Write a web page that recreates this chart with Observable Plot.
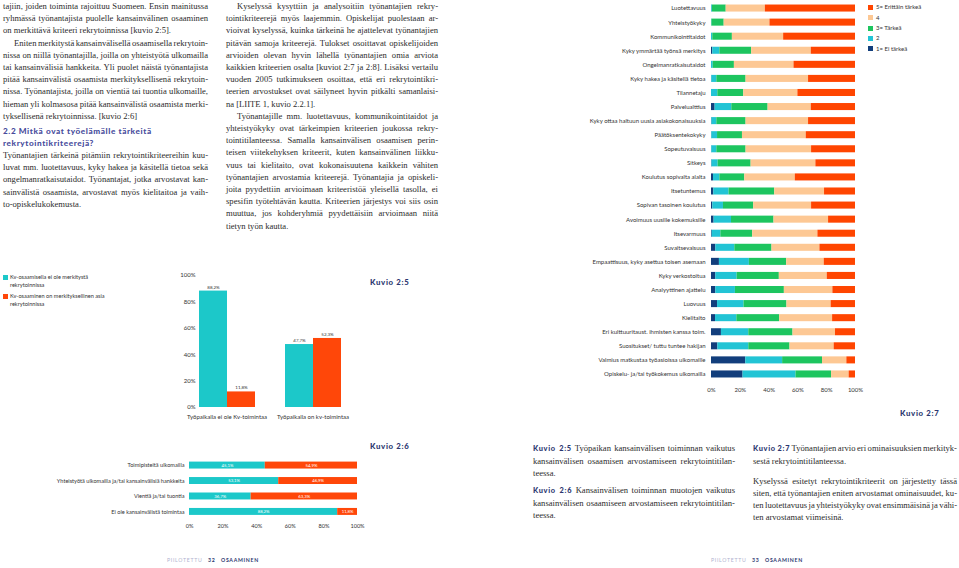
<!DOCTYPE html>
<html><head><meta charset="utf-8">
<script src="https://cdn.jsdelivr.net/npm/d3@7"></script>
<script src="https://cdn.jsdelivr.net/npm/@observablehq/plot@0.6"></script>
<style>
html,body{margin:0;padding:0;background:#fff;}
#page{position:relative;width:959px;height:568px;overflow:hidden;background:#fff;}
.ln{position:absolute;white-space:nowrap;font-family:"Liberation Serif",serif;font-size:8.6px;line-height:12px;height:12px;color:#2b2b2b;}
.h{font-family:Lato,"Open Sans",sans-serif;font-weight:900;color:#474c9c;letter-spacing:.6px;font-size:8.2px;}
.kv{font-family:Lato,sans-serif;font-weight:900;color:#2c376f;letter-spacing:.7px;font-size:7.4px;}
.abs{position:absolute;}
.sm{position:absolute;font-family:Lato,sans-serif;font-size:6px;color:#333;white-space:nowrap;line-height:8px;}
.sq{position:absolute;width:5px;height:5px;}
.ft{position:absolute;font-family:Lato,sans-serif;font-size:5.2px;letter-spacing:.7px;font-weight:700;white-space:nowrap;}
</style></head><body><div id="page"></div>
<script>
// ---------- DATA ----------
// Kuvio 2:5
const kv5Categories = ["Työpaikalla ei ole Kv-toimintaa", "Työpaikalla on kv-toimintaa"];
const kv5Series = ["Kv-osaamisella ei ole merkitystä rekrytoinnissa", "Kv-osaaminen on merkityksellinen asia rekrytoinnissa"];
const kv5NoMeaning = [88.2, 47.7];
const kv5Meaningful = [11.8, 52.3];
const pctTicks = [0, 20, 40, 60, 80, 100];

// Kuvio 2:6
const kv6Categories = ["Toimipisteitä ulkomailla", "Yhteistyötä ulkomailla ja/tai kansainvälisiä hankkeita", "Vientiä ja/tai tuontia", "Ei ole kansainvälistä toimintaa"];
const kv6NoMeaning = [45.1, 53.1, 36.7, 88.2];
const kv6Meaningful = [54.9, 46.9, 63.3, 11.8];

// Kuvio 2:7
const kv7Categories = ["Luotettavuus", "Yhteistyökyky", "Kommunikointitaidot", "Kyky ymmärtää työnsä merkitys", "Ongelmanratkaisutaidot", "Kyky hakea ja käsitellä tietoa", "Tilannetaju", "Palvelualttius", "Kyky ottaa haltuun uusia asiakokonaisuuksia", "Päätöksentekokyky", "Sopeutuvaisuus", "Sitkeys", "Koulutus sopivalta alalta", "Itsetuntemus", "Sopivan tasoinen koulutus", "Avoimuus uusille kokemuksille", "Itsevarmuus", "Suvaitsevaisuus", "Empaattisuus, kyky asettua toisen asemaan", "Kyky verkostoitua", "Analyyttinen ajattelu", "Luovuus", "Kielitaito", "Eri kulttuuritaust. ihmisten kanssa toim.", "Suositukset/ tuttu tuntee hakijan", "Valmius matkustaa työasioissa ulkomaille", "Opiskelu- ja/tai työkokemus ulkomailla"];
const kv7Ratings = ["1= Ei tärkeä", "2", "3= Tärkeä", "4", "5= Erittäin tärkeä"];
const kv7Rating1 = [0.2, 0, 0, 0.9, 0, 0.2, 0, 2.5, 0.3, 0.2, 0.2, 0.3, 1.4, 1.6, 0.9, 1.8, 0.5, 3.0, 5.5, 3.0, 3.0, 4.2, 2.8, 6.9, 4.4, 23.8, 21.9];
const kv7Rating2 = [0.5, 0.3, 0.9, 4.9, 1.2, 3.5, 4.4, 11.6, 3.4, 4.0, 3.5, 4.3, 4.4, 10.6, 7.4, 12.1, 6.0, 13.2, 20.8, 14.8, 13.6, 18.4, 14.8, 19.0, 21.5, 25.6, 36.8];
const kv7Rating3 = [9.5, 8.5, 13.6, 22.1, 14.7, 20.3, 18.0, 25.2, 20.3, 17.3, 20.3, 22.9, 17.3, 31.7, 21.0, 29.5, 22.1, 25.8, 25.9, 29.3, 34.0, 29.8, 29.7, 30.7, 28.6, 27.7, 24.7];
const kv7Rating4 = [27.2, 31.8, 35.6, 41.4, 41.4, 43.4, 37.6, 30.0, 43.4, 44.3, 45.5, 45.0, 35.1, 34.6, 40.2, 37.9, 45.3, 33.3, 26.1, 33.3, 33.7, 30.7, 36.8, 29.5, 30.7, 16.9, 12.2];
const kv7Rating5 = [62.6, 59.4, 49.9, 30.7, 42.7, 32.6, 40.0, 30.7, 32.6, 34.2, 30.5, 27.5, 41.8, 21.5, 30.5, 18.7, 26.1, 24.7, 21.7, 19.6, 15.7, 16.9, 15.9, 13.9, 14.8, 6.0, 4.4];

// ---------- TEXT ----------
const leftLines = [
  ["tajiin, joiden toiminta rajoittuu Suomeen. Ensin mainitussa", 1, 0],
  ["ryhmässä työnantajista puolelle kansainvälinen osaaminen", 1, 0],
  ["on merkittävä kriteeri rekrytoinnissa [kuvio 2:5].", 0, 0],
  ["Eniten merkitystä kansainvälisellä osaamisella rekrytoin-", 1, 1],
  ["nissa on niillä työnantajilla, joilla on yhteistyötä ulkomailla", 1, 0],
  ["tai kansainvälisiä hankkeita. Yli puolet näistä työnantajista", 1, 0],
  ["pitää kansainvälistä osaamista merkityksellisenä rekrytoin-", 1, 0],
  ["nissa. Työnantajista, joilla on vientiä tai tuontia ulkomaille,", 1, 0],
  ["hieman yli kolmasosa pitää kansainvälistä osaamista merki-", 1, 0],
  ["tyksellisenä rekrytoinnissa. [kuvio 2:6]", 0, 0]
];
const leftLines2 = [
  ["Työnantajien tärkeinä pitämiin rekrytointikriteereihin kuu-", 1, 0],
  ["luvat mm. luotettavuus, kyky hakea ja käsitellä tietoa sekä", 1, 0],
  ["ongelmanratkaisutaidot. Työnantajat, jotka arvostavat kan-", 1, 0],
  ["sainvälistä osaamista, arvostavat myös kielitaitoa ja vaih-", 1, 0],
  ["to-opiskelukokemusta.", 0, 0]
];
const midLines = [
  ["Kyselyssä kysyttiin ja analysoitiin työnantajien rekry-", 1, 1],
  ["tointikriteerejä myös laajemmin. Opiskelijat puolestaan ar-", 1, 0],
  ["vioivat kyselyssä, kuinka tärkeinä he ajattelevat työnantajien", 1, 0],
  ["pitävän samoja kriteerejä. Tulokset osoittavat opiskelijoiden", 1, 0],
  ["arvioiden olevan hyvin lähellä työnantajien omia arviota", 1, 0],
  ["kaikkien kriteerien osalta [kuviot 2:7 ja 2:8]. Lisäksi vertailu", 1, 0],
  ["vuoden 2005 tutkimukseen osoittaa, että eri rekrytointikri-", 1, 0],
  ["teerien arvostukset ovat säilyneet hyvin pitkälti samanlaisi-", 1, 0],
  ["na [LIITE 1, kuvio 2.2.1].", 0, 0],
  ["Työnantajille mm. luotettavuus, kommunikointitaidot ja", 1, 1],
  ["yhteistyökyky ovat tärkeimpien kriteerien joukossa rekry-", 1, 0],
  ["tointitilanteessa. Samalla kansainvälisen osaamisen perin-", 1, 0],
  ["teisen viitekehyksen kriteerit, kuten kansainvälinen liikku-", 1, 0],
  ["vuus tai kielitaito, ovat kokonaisuutena kaikkein vähiten", 1, 0],
  ["työnantajien arvostamia kriteerejä. Työnantajia ja opiskeli-", 1, 0],
  ["joita pyydettiin arvioimaan kriteeristöä yleisellä tasolla, ei", 1, 0],
  ["spesifin työtehtävän kautta. Kriteerien järjestys voi siis osin", 1, 0],
  ["muuttua, jos kohderyhmiä pyydettäisiin arvioimaan niitä", 1, 0],
  ["tietyn työn kautta.", 0, 0]
];
const capLeft = [
  ["<span class='kv'>Kuvio 2:5</span> Työpaikan kansainvälisen toiminnan vaikutus", 1, 448],
  ["kansainvälisen osaamisen arvostamiseen rekrytointitilan-", 1, 460.5],
  ["teessa.", 0, 473],
  ["<span class='kv'>Kuvio 2:6</span> Kansainvälisen toiminnan muotojen vaikutus", 1, 490],
  ["kansainvälisen osaamiseen arvostamiseen rekrytointitilan-", 1, 502.5],
  ["teessa.", 0, 515]
];
const capRight = [
  ["<span class='kv'>Kuvio 2:7</span> Työnantajien arvio eri ominaisuuksien merkityk-", 1, 448],
  ["sestä rekrytointitilanteessa.", 0, 460.5],
  ["Kyselyssä esitetyt rekrytointikriteerit on järjestetty tässä", 1, 480.5],
  ["siten, että työnantajien eniten arvostamat ominaisuudet, ku-", 1, 492.5],
  ["ten luotettavuus ja yhteistyökyky ovat ensimmäisinä ja vähi-", 1, 504.5],
  ["ten arvostamat viimeisinä.", 0, 517]
];

const page = document.getElementById("page");
function addLine(html, x, y, w, justify, cls) {
  const d = document.createElement("div");
  d.className = cls || "ln";
  d.style.left = x + "px";
  d.style.top = (y - 6) + "px";
  d.innerHTML = html;
  page.appendChild(d);
  if (justify) {
    const nat = d.getBoundingClientRect().width;
    const txt = d.textContent;
    const spaces = (txt.match(/ /g) || []).length;
    if (spaces) d.style.wordSpacing = ((w - nat) / spaces) + "px";
  }
  return d;
}
const LH = 12.2;
const LX = 3, LW = 205, MX = 226, MW = 212;
leftLines.forEach((l, i) => addLine(l[0], LX + (l[2] ? 11 : 0), 6 + i * LH, LW - (l[2] ? 11 : 0), l[1]));
addLine("2.2 Mitkä ovat työelämälle tärkeitä", LX, 130.7, 0, 0, "ln h");
addLine("rekrytointikriteerejä?", LX, 142.7, 0, 0, "ln h");
leftLines2.forEach((l, i) => addLine(l[0], LX, 155 + i * LH, LW, l[1]));
midLines.forEach((l, i) => addLine(l[0], MX + (l[2] ? 11 : 0), 6 + i * LH, MW - (l[2] ? 11 : 0), l[1]));
capLeft.forEach(l => addLine(l[0], 533, l[2], 202, l[1]));
capRight.forEach(l => addLine(l[0], 753, l[2], 204, l[1]));

// Kuvio labels
function kvLabel(t, x, y) {
  const d = document.createElement("div");
  d.className = "abs kv"; d.style.fontSize = "7.8px";
  d.style.left = x + "px"; d.style.top = (y - 5) + "px"; d.textContent = t;
  page.appendChild(d);
}
kvLabel("Kuvio 2:5", 370, 282);
kvLabel("Kuvio 2:6", 370, 446);
kvLabel("Kuvio 2:7", 900, 413);

// Footer
function ft(t, x, col, w) {
  const d = document.createElement("div");
  d.className = "ft"; d.style.left = x + "px"; d.style.top = "557px"; d.style.color = col;
  if (w) d.style.fontWeight = w;
  d.textContent = t; page.appendChild(d);
}
ft("PIILOTETTU", 167, "#b1b3cf", 400); ft("32", 208, "#2c376f"); ft("OSAAMINEN", 221, "#2c376f");
ft("PIILOTETTU", 711, "#b1b3cf", 400); ft("33", 752, "#2c376f"); ft("OSAAMINEN", 765, "#2c376f");

// ---------- CHARTS ----------
const CYAN = "#1cc8c9", RED = "#ff4709";
const fmt = v => v.toFixed(1).replace(".", ",") + "%";
function place(el, x, y) {
  const w = document.createElement("div");
  w.className = "abs"; w.style.left = x + "px"; w.style.top = y + "px";
  w.appendChild(el); page.appendChild(w);
}

// Kuvio 2:5
const d5 = kv5Categories.flatMap((c, i) => [
  {cat: c, series: kv5Series[0], value: kv5NoMeaning[i]},
  {cat: c, series: kv5Series[1], value: kv5Meaningful[i]}
]);
const chart5 = Plot.plot({
  width: 220, height: 165,
  marginLeft: 39, marginRight: 0, marginTop: 10, marginBottom: 23,
  style: {fontFamily: "Lato, sans-serif", fontSize: "6px", color: "#333", background: "transparent"},
  facet: {data: d5, x: "cat"},
  fx: {domain: kv5Categories, axis: "bottom", label: null, tickSize: 0, tickPadding: 7, paddingInner: 0.333, paddingOuter: 0.207},
  x: {domain: kv5Series, axis: null, padding: 0},
  y: {domain: [0, 100], ticks: pctTicks, tickFormat: d => d + "%", tickSize: 0, tickPadding: 3, label: null},
  color: {domain: kv5Series, range: [CYAN, RED]},
  marks: [
    Plot.barY(d5, {x: "series", y: "value", fill: "series"}),
    Plot.text(d5, {x: "series", y: "value", text: d => fmt(d.value), dy: -4, fontSize: 4.5, fill: "#333"})
  ]
});
place(chart5, 140, 265);

// Legend 2:5
[[kv5Series[0], CYAN, 277], [kv5Series[1], RED, 296]].forEach(([t, c, y]) => {
  const s = document.createElement("div"); s.className = "sq"; s.style.background = c;
  s.style.left = "3px"; s.style.top = (y - 2.5) + "px"; page.appendChild(s);
  const words = t.split(" "); const last = words.pop();
  const d = document.createElement("div"); d.className = "sm";
  d.style.left = "10px"; d.style.top = (y - 4) + "px"; d.style.fontSize = "5.6px";
  d.innerHTML = words.join(" ") + "<br>" + last; page.appendChild(d);
});

// Kuvio 2:6
const d6 = kv6Categories.flatMap((c, i) => [
  {cat: c, series: kv5Series[0], value: kv6NoMeaning[i]},
  {cat: c, series: kv5Series[1], value: kv6Meaningful[i]}
]);
const chart6 = Plot.plot({
  width: 375, height: 80,
  marginLeft: 189, marginRight: 18, marginTop: 3.5, marginBottom: 17,
  style: {fontFamily: "Lato, sans-serif", fontSize: "5.6px", color: "#333", background: "transparent"},
  x: {domain: [0, 100], ticks: pctTicks, tickFormat: d => d + "%", tickSize: 0, tickPadding: 6, label: null},
  y: {domain: kv6Categories, paddingInner: 0.55, paddingOuter: 0.2, round: false, tickSize: 0, tickPadding: 5, label: null},
  color: {domain: kv5Series, range: [CYAN, RED]},
  marks: [
    Plot.barX(d6, {x: "value", y: "cat", fill: "series"}),
    Plot.text(d6, Plot.stackX({x: "value", y: "cat", text: d => fmt(d.value), fill: "white", fontSize: 4.3}))
  ]
});
place(chart6, 0, 455);

// Kuvio 2:7
const kv7Series = [kv7Rating1, kv7Rating2, kv7Rating3, kv7Rating4, kv7Rating5];
const d7 = kv7Categories.flatMap((c, i) => kv7Ratings.map((r, j) => ({cat: c, rating: r, value: kv7Series[j][i]})));
const kv7Colors = ["#123e7c", "#22c4d5", "#1dc55f", "#fdc894", "#ff4500"];
const chart7 = Plot.plot({
  width: 315, height: 401,
  marginLeft: 151, marginRight: 20, marginTop: 1, marginBottom: 20,
  style: {fontFamily: "Lato, sans-serif", fontSize: "6px", color: "#333", background: "transparent"},
  x: {domain: [0, 100], ticks: pctTicks, tickFormat: d => d + "%", tickSize: 0, tickPadding: 6.5, label: null},
  y: {domain: kv7Categories, paddingInner: 0.5, paddingOuter: 0.25, round: false, tickSize: 0, tickPadding: 6, label: null},
  color: {domain: kv7Ratings, range: kv7Colors},
  marks: [
    Plot.barX(d7, {x: "value", y: "cat", fill: "rating"})
  ]
});
place(chart7, 560, 0);

// Legend 2:7 (top = 5)
[4, 3, 2, 1, 0].forEach((j, k) => {
  const y = 7.3 + k * 10.35;
  const s = document.createElement("div"); s.className = "sq"; s.style.background = kv7Colors[j];
  s.style.left = "868px"; s.style.top = (y - 2.5) + "px"; page.appendChild(s);
  const d = document.createElement("div"); d.className = "sm";
  d.style.left = "876px"; d.style.top = (y - 4) + "px"; d.textContent = kv7Ratings[j];
  page.appendChild(d);
});
</script>
</body></html>
